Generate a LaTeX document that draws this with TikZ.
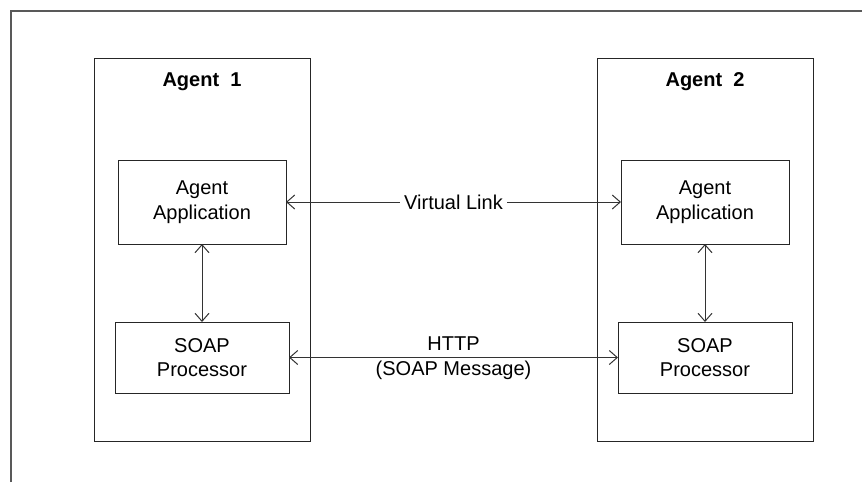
\documentclass[tikz,border=0pt]{standalone}
\usepackage{fontspec}
\setmainfont{Liberation Sans}
\usetikzlibrary{arrows.meta}
\begin{document}
\begin{tikzpicture}[x=0.75pt,y=-0.75pt,
  every node/.style={font=\fontsize{15}{18.5}\selectfont, inner sep=0pt, outer sep=0pt},
  box/.style={draw=black!85, line width=0.75pt, align=center},
  conn/.style={draw=black!80, line width=0.75pt, {Straight Barb[length=6pt,width=10.5pt]}-{Straight Barb[length=6pt,width=10.5pt]}},
  frame/.style={draw=black!65, line width=0.9pt}]
\useasboundingbox (0,0) rectangle (862,482);
\draw[frame] (11,482) -- (11,11) -- (862,11);
% agent containers
\node[box, minimum width=216*0.75pt, minimum height=383*0.75pt] (agent1) at (202,249.5) {};
\node[box, minimum width=216*0.75pt, minimum height=383*0.75pt] (agent2) at (705,249.5) {};
\node[font=\fontsize{15}{18}\selectfont\bfseries] (lab1) at (202,82) {Agent\ \ 1};
\node[font=\fontsize{15}{18}\selectfont\bfseries] (lab2) at (705,82) {Agent\ \ 2};
% inner boxes
\node[box, minimum width=168*0.75pt, minimum height=84*0.75pt] (app1) at (202,202) {Agent\\Application};
\node[box, minimum width=168*0.75pt, minimum height=84*0.75pt] (app2) at (705,202) {Agent\\Application};
\node[box, minimum width=174*0.75pt, minimum height=71*0.75pt] (soap1) at (202,357.5) {SOAP\\Processor};
\node[box, minimum width=174*0.75pt, minimum height=71*0.75pt] (soap2) at (705,357.5) {SOAP\\Processor};
% connectors
\draw[conn] (app1.south) -- (soap1.north);
\draw[conn] (app2.south) -- (soap2.north);
\draw[conn] (app1.east) -- node[fill=white, inner xsep=3pt, inner ysep=2pt] (vl) {Virtual Link} (app2.west);
\draw[conn] (soap1.east) -- node[align=center, font=\fontsize{15}{18.5}\selectfont, yshift=-0.5pt] (http) {HTTP\\(SOAP Message)} (soap2.west);
\end{tikzpicture}
\end{document}
